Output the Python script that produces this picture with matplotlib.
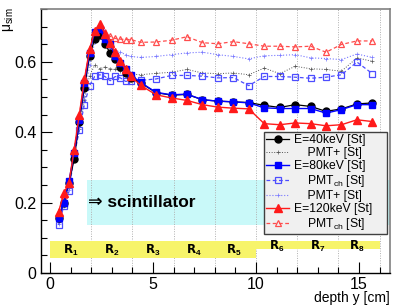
import matplotlib
matplotlib.use("Agg")
import matplotlib.pyplot as plt
from matplotlib.patches import Rectangle
from matplotlib.ticker import MultipleLocator, FixedLocator, FixedFormatter

plt.rcParams['font.family'] = ['Liberation Sans', 'DejaVu Sans']
plt.rcParams['mathtext.default'] = 'regular'

# profundidad de cada punto [cm]
depth = [0.42, 0.67, 0.92, 1.17, 1.42, 1.67, 1.92, 2.17, 2.42, 2.67, 2.92, 3.17, 3.42, 3.67, 3.92,
         4.4, 5.15, 5.9, 6.65, 7.4, 8.15, 8.9, 9.65, 10.4, 11.15, 11.9, 12.65, 13.4, 14.15, 14.9, 15.65]

e40 = [0.155, 0.200, 0.255, 0.323, 0.430, 0.525, 0.615, 0.665, 0.675, 0.650, 0.625, 0.608, 0.585, 0.568, 0.555,
       0.540, 0.512, 0.505, 0.507, 0.492, 0.488, 0.486, 0.484, 0.476, 0.470, 0.478, 0.473, 0.459, 0.466, 0.480, 0.483]
e40_pmtplus = [0.150, 0.195, 0.240, 0.330, 0.410, 0.490, 0.560, 0.590, 0.580, 0.585, 0.580, 0.578, 0.575, 0.570, 0.565,
               0.563, 0.567, 0.570, 0.578, 0.568, 0.566, 0.568, 0.563, 0.582, 0.566, 0.587, 0.580, 0.578, 0.573, 0.611, 0.601]
e80 = [0.156, 0.200, 0.260, 0.340, 0.435, 0.540, 0.625, 0.685, 0.693, 0.665, 0.650, 0.615, 0.597, 0.578, 0.563,
       0.541, 0.513, 0.506, 0.508, 0.492, 0.488, 0.486, 0.483, 0.469, 0.467, 0.467, 0.467, 0.454, 0.464, 0.478, 0.478]
e80_pmtch = [0.136, 0.190, 0.233, 0.330, 0.405, 0.478, 0.532, 0.558, 0.563, 0.558, 0.546, 0.558, 0.554, 0.544, 0.546,
             0.547, 0.551, 0.561, 0.561, 0.559, 0.554, 0.555, 0.532, 0.558, 0.558, 0.556, 0.553, 0.556, 0.563, 0.599, 0.566]
e80_pmtplus = [0.140, 0.190, 0.235, 0.330, 0.410, 0.500, 0.590, 0.655, 0.680, 0.660, 0.640, 0.632, 0.627, 0.620, 0.615,
               0.612, 0.615, 0.620, 0.625, 0.627, 0.620, 0.615, 0.608, 0.617, 0.618, 0.620, 0.611, 0.609, 0.606, 0.622, 0.612]
e120 = [0.174, 0.226, 0.255, 0.350, 0.448, 0.550, 0.635, 0.688, 0.706, 0.680, 0.652, 0.627, 0.603, 0.578, 0.558,
        0.533, 0.506, 0.497, 0.490, 0.478, 0.471, 0.468, 0.466, 0.424, 0.421, 0.426, 0.424, 0.418, 0.421, 0.435, 0.430]
e120_pmtch = [0.170, 0.222, 0.252, 0.345, 0.445, 0.548, 0.633, 0.685, 0.703, 0.685, 0.672, 0.666, 0.664, 0.663, 0.663,
              0.655, 0.656, 0.661, 0.671, 0.654, 0.651, 0.657, 0.651, 0.644, 0.644, 0.642, 0.644, 0.627, 0.649, 0.659, 0.659]

# regiones R1..R8
regiones = ['1', '2', '3', '4', '5', '6', '7', '8']
reg_centro = [1.0, 3.0, 5.0, 7.0, 8.9, 11.0, 13.0, 14.9]

fig = plt.figure(figsize=(4.07, 3.07), dpi=100)
ax = fig.add_axes([0.1, 0.111, 0.858, 0.86])
ax.set_xlim(-0.45, 16.5)
ax.set_ylim(0, 0.75)

# caja "scintillator"
ax.add_patch(Rectangle((1.78, 0.136), 20, 0.129, facecolor='#c9f9f9', edgecolor='none', zorder=0))
ax.text(1.85, 0.2, '⇒ scintillator', fontsize=12.5, fontweight='bold', va='center', ha='left', zorder=1)

# lineas verticales de las regiones
for xg in [2, 4, 6, 8, 10, 12, 14, 16]:
    ax.axvline(xg, color='#b0b0b0', lw=0.7, ls=(0, (1, 1.5)), zorder=0.5)

# bandas amarillas
ax.add_patch(Rectangle((0, 0.041), 10, 0.051, facecolor='#f7f46a', edgecolor='none', zorder=1))
ax.add_patch(Rectangle((10, 0.068), 6, 0.024, facecolor='#f7f46a', edgecolor='none', zorder=1))
for r, xc in zip(regiones, reg_centro):
    yc = 0.064 if xc < 10 else 0.076
    ax.text(xc, yc, r'$\mathbf{R}_{%s}$' % r, fontsize=8.5, fontweight='bold', ha='center', va='center', zorder=2)

ax.plot(depth, e40_pmtplus, color='#555555', lw=0.7, ls=':', marker='+', ms=3, mew=0.5,
        label='    PMT+ [St]', zorder=3)
ax.plot(depth, e80_pmtplus, color='#7777ff', lw=0.8, ls=':', marker='+', ms=3, mew=0.5,
        label='    PMT+ [St]', zorder=3)
ax.plot(depth, e80_pmtch, color='#4d4dff', lw=0.9, ls='--', dashes=(3, 2), marker='s', ms=5,
        mfc='none', mew=0.9, label=r'    PMT$_{ch}$ [St]', zorder=4)
ax.plot(depth, e120_pmtch, color='#ff4d4d', lw=0.9, ls='--', dashes=(3, 2), marker='^', ms=5,
        mfc='none', mew=0.9, label=r'    PMT$_{ch}$ [St]', zorder=4)
ax.plot(depth, e40, color='black', lw=0.9, marker='o', ms=5, label='E=40keV [St]', zorder=5)
ax.plot(depth, e80, color='#0000ff', lw=1.0, marker='s', ms=5, label='E=80keV [St]', zorder=6)
ax.plot(depth, e120, color='#ff1a1a', lw=1.0, marker='^', ms=5.5, label='E=120keV [St]', zorder=7)

# ejes
ax.xaxis.set_major_locator(FixedLocator([0, 5, 10, 15]))
ax.xaxis.set_major_formatter(FixedFormatter(['0', '5', '10', '15']))
ax.xaxis.set_minor_locator(MultipleLocator(1))
ax.yaxis.set_major_locator(FixedLocator([0, 0.2, 0.4, 0.6]))
ax.yaxis.set_major_formatter(FixedFormatter(['0', '0.2', '0.4', '0.6']))
ax.yaxis.set_minor_locator(MultipleLocator(0.05))
ax.tick_params(which='major', direction='in', length=8, width=0.8, labelsize=11.5, pad=3)
ax.tick_params(which='minor', direction='in', length=4, width=0.8)
for s in ['left', 'bottom']:
    ax.spines[s].set_linewidth(1.0)
for s in ['top', 'right']:
    ax.spines[s].set_color('#808080')
    ax.spines[s].set_linewidth(1.2)

fig.text(0.022, 0.975, r'$\mu_{sim}$', rotation=90, ha='center', va='top', fontsize=10)
fig.text(0.958, 0.03, 'depth y [cm]', ha='right', va='center', fontsize=10)

# leyenda en el orden original
h, l = ax.get_legend_handles_labels()
orden = [4, 0, 5, 2, 1, 6, 3]
leg = ax.legend([h[i] for i in orden], [l[i] for i in orden], loc='upper left',
                bbox_to_anchor=(0.639, 0.14, 0.352, 0.395), mode='expand', borderaxespad=0,
                fontsize=8.7, handlelength=1.9, handletextpad=0.4, labelspacing=0.08,
                borderpad=0.2, fancybox=False, framealpha=1)
leg.get_frame().set_facecolor('#f0f0f0')
leg.get_frame().set_edgecolor('#404040')
leg.get_frame().set_linewidth(1.0)
leg.set_zorder(10)

plt.savefig('out.png', dpi=100)
